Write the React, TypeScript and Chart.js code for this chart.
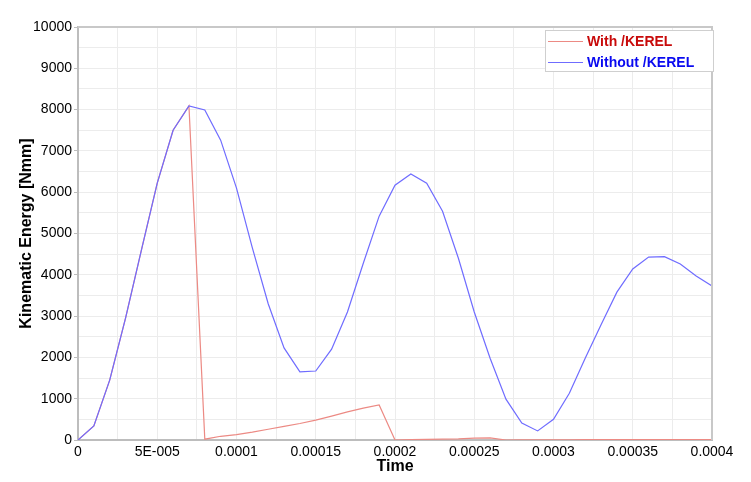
import React, { useEffect, useRef } from "react";
import { Chart, registerables } from "chart.js";
Chart.register(...registerables);

const times = [
  0, 1e-5, 2e-5, 3e-5, 4e-5, 5e-5, 6e-5, 7e-5, 8e-5, 9e-5,
  10e-5, 11e-5, 12e-5, 13e-5, 14e-5, 15e-5, 16e-5, 17e-5, 18e-5, 19e-5,
  20e-5, 21e-5, 22e-5, 23e-5, 24e-5, 25e-5, 26e-5, 27e-5, 28e-5, 29e-5,
  30e-5, 31e-5, 32e-5, 33e-5, 34e-5, 35e-5, 36e-5, 37e-5, 38e-5, 39e-5, 40e-5,
];

const withKerel = [
  0, 340, 1450, 2950, 4600, 6220, 7500, 8090, 20, 90,
  130, 190, 260, 330, 400, 480, 580, 680, 770, 850,
  0, 10, 15, 20, 25, 45, 50, 0, 5, 5,
  5, 5, 8, 8, 8, 10, 10, 10, 10, 10, 10,
];

const withoutKerel = [
  0, 340, 1450, 2950, 4600, 6220, 7500, 8090, 7990, 7260,
  6100, 4650, 3300, 2230, 1650, 1670, 2200, 3100, 4280, 5420,
  6170, 6440, 6220, 5540, 4400, 3100, 1980, 990, 410, 220,
  500, 1130, 1980, 2790, 3580, 4140, 4430, 4440, 4260, 3970, 3730,
];

const xTickLabels = ["0", "5E-005", "0.0001", "0.00015", "0.0002", "0.00025", "0.0003", "0.00035", "0.0004"];
const seriesNames = ["With /KEREL", "Without /KEREL"];
const lineColors = ["#ec8a84", "#6f6cff"];
const textColors = ["#c80a0a", "#0a0af0"];

const FONT = "'Liberation Sans', Arial, sans-serif";

const boxPlugin = {
  id: "boxAndLegend",
  afterDraw(chart: any) {
    const { ctx, chartArea } = chart;
    ctx.save();
    ctx.strokeStyle = "#c8c8c8";
    ctx.lineWidth = 2;
    ctx.beginPath();
    ctx.moveTo(chartArea.left, chartArea.top);
    ctx.lineTo(chartArea.right, chartArea.top);
    ctx.lineTo(chartArea.right, chartArea.bottom);
    ctx.stroke();
    // legend
    const bx = 545, by = 30, bw = 168, bh = 41;
    ctx.fillStyle = "#ffffff";
    ctx.fillRect(bx, by, bw, bh);
    ctx.strokeStyle = "#cfcfcf";
    ctx.lineWidth = 1;
    ctx.strokeRect(bx + 0.5, by + 0.5, bw, bh);
    ctx.font = `bold 14px ${FONT}`;
    ctx.textBaseline = "middle";
    ctx.textAlign = "left";
    const rows = [41, 62];
    for (let i = 0; i < 2; i++) {
      ctx.strokeStyle = lineColors[i];
      ctx.beginPath();
      ctx.moveTo(548, rows[i] + 0.5);
      ctx.lineTo(583, rows[i] + 0.5);
      ctx.stroke();
      ctx.fillStyle = textColors[i];
      ctx.fillText(seriesNames[i], 587, rows[i] + 1);
    }
    ctx.restore();
  },
};

export default function App() {
  const ref = useRef<HTMLCanvasElement>(null);
  useEffect(() => {
    document.body.style.margin = "0";
    const chart = new Chart(ref.current!, {
      type: "line",
      data: {
        datasets: [
          {
            label: seriesNames[0],
            data: times.map((t, i) => ({ x: t, y: withKerel[i] })),
            borderColor: lineColors[0],
            borderWidth: 1.2,
            pointRadius: 0,
            tension: 0,
            order: 1,
          },
          {
            label: seriesNames[1],
            data: times.map((t, i) => ({ x: t, y: withoutKerel[i] })),
            borderColor: lineColors[1],
            borderWidth: 1.2,
            pointRadius: 0,
            tension: 0,
            order: 0,
          },
        ],
      },
      options: {
        animation: false,
        responsive: false,
        devicePixelRatio: 1,
        layout: { padding: { top: 27, right: 39, left: 0, bottom: 0 } },
        plugins: { legend: { display: false }, tooltip: { enabled: false } },
        scales: {
          x: {
            type: "linear",
            min: 0,
            max: 0.0004,
            afterBuildTicks: (s: any) => {
              const arr = [];
              for (let i = 0; i <= 16; i++) arr.push({ value: (i * 0.0004) / 16 });
              s.ticks = arr;
            },
            afterFit: (s: any) => { s.height = 42; },
            grid: { color: "#ececec", drawTicks: false, lineWidth: 1 },
            border: { color: "#bdbdbd", width: 2 },
            ticks: {
              autoSkip: false,
              maxRotation: 0,
              padding: 4,
              color: "#000",
              font: { family: FONT, size: 14 },
              callback: (v: any) => {
                const i = Math.round(Number(v) / 0.000025);
                return i % 2 === 0 ? xTickLabels[i / 2] : "";
              },
            },
            title: {
              display: true,
              text: "Time",
              color: "#000",
              font: { family: FONT, size: 16, weight: "bold" },
              padding: { top: 0, bottom: 6 },
            },
          },
          y: {
            type: "linear",
            min: 0,
            max: 10000,
            ticks: {
              stepSize: 500,
              autoSkip: false,
              padding: 2,
              color: "#000",
              font: { family: FONT, size: 14 },
              callback: (v: any) => (Math.round(Number(v)) % 1000 === 0 ? String(Math.round(Number(v))) : ""),
            },
            afterFit: (s: any) => { s.width = 78; },
            grid: {
              color: "#ececec",
              drawTicks: true,
              tickLength: 4,
              tickColor: (c: any) => (c.tick && Math.round(c.tick.value) % 1000 === 0 ? "#bdbdbd" : "rgba(0,0,0,0)"),
              lineWidth: 1,
            },
            border: { color: "#bdbdbd", width: 2 },
            title: {
              display: true,
              text: "Kinematic Energy [Nmm]",
              color: "#000",
              font: { family: FONT, size: 16, weight: "bold" },
              padding: { top: 17, bottom: 0 },
            },
          },
        },
      },
      plugins: [boxPlugin],
    });
    return () => chart.destroy();
  }, []);
  return <canvas ref={ref} width={751} height={482} style={{ display: "block" }} />;
}
